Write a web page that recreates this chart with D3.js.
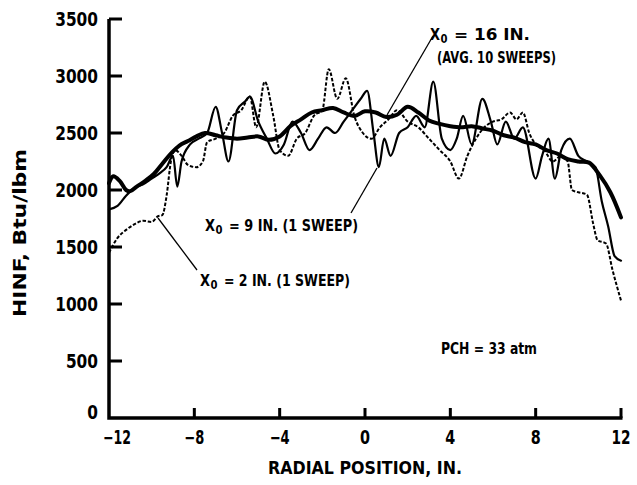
<!DOCTYPE html>
<html><head><meta charset="utf-8">
<script src="https://cdn.jsdelivr.net/npm/d3@7"></script>
<style>
body{margin:0;background:#fff}
svg text{font-family:"DejaVu Sans Condensed","DejaVu Sans",sans-serif;font-weight:bold;font-stretch:condensed;fill:#000}
</style>
</head><body>
<svg id="c" width="637" height="485"></svg>
<script>
// ---- data ----
const xTicks = [-12, -8, -4, 0, 4, 8, 12];
const yTicks = [0, 500, 1000, 1500, 2000, 2500, 3000, 3500];

// X0 = 16 IN. (avg. 10 sweeps) - thick line
const pos16 = [-12,-11.8,-11.5,-11.2,-11,-10.7,-10.3,-9.9,-9.5,-9.1,-8.7,-8.3,-7.9,-7.5,-7,-6.5,-6,-5.5,-5,-4.5,-4,-3.5,-3,-2.5,-2,-1.5,-1,-0.5,0,0.5,1,1.5,2,2.5,3,3.5,4,4.5,5,5.5,6,6.5,7,7.5,8,8.5,9,9.5,10,10.5,11,11.5,12];
const hinf16 = [2060,2120,2080,2000,1990,2030,2080,2140,2230,2320,2390,2430,2470,2500,2480,2460,2450,2460,2470,2440,2470,2560,2620,2680,2700,2720,2680,2650,2690,2680,2640,2660,2730,2680,2610,2580,2560,2550,2560,2540,2520,2480,2460,2420,2400,2350,2320,2270,2250,2240,2130,1980,1760];

// X0 = 9 IN. (1 sweep) - thin solid line
const pos9 = [-12,-11.6,-11.2,-10.8,-10.4,-10,-9.6,-9.3,-9,-8.8,-8.6,-8.2,-7.8,-7.4,-7,-6.7,-6.4,-6,-5.6,-5.4,-5,-4.6,-4.2,-3.8,-3.4,-3,-2.6,-2.2,-1.8,-1.4,-1,-0.6,-0.2,0.1,0.4,0.65,0.9,1.2,1.6,2,2.4,2.8,3.2,3.6,4,4.3,4.6,5,5.5,5.9,6.2,6.6,7,7.4,8,8.3,8.6,8.9,9.2,9.6,10,10.4,10.8,11.1,11.4,11.7,12];
const hinf9 = [1830,1860,1950,2020,2050,2100,2150,2200,2300,2030,2250,2400,2450,2500,2730,2500,2250,2700,2780,2820,2600,2450,2320,2400,2600,2500,2350,2450,2550,2500,2600,2700,2800,2870,2500,2200,2450,2300,2500,2550,2650,2550,2950,2450,2350,2450,2650,2400,2800,2600,2400,2600,2450,2550,2100,2300,2450,2100,2350,2450,2300,2250,2200,1900,1680,1420,1380];

// X0 = 2 IN. (1 sweep) - dashed line
const pos2 = [-12,-11.6,-11.2,-10.8,-10.4,-10,-9.7,-9.5,-9.3,-9.1,-8.9,-8.6,-8.3,-7.9,-7.6,-7.4,-7,-6.6,-6.2,-5.8,-5.4,-5.1,-4.7,-4.3,-4,-3.6,-3.2,-2.8,-2.4,-2,-1.7,-1.3,-0.9,-0.5,-0.1,0.3,0.7,1.1,1.5,2,2.5,3,3.5,4,4.4,4.8,5.2,5.6,6,6.4,6.8,7.1,7.4,7.7,8,8.4,8.8,9.2,9.5,9.7,10,10.4,10.7,10.9,11.3,11.6,12];
const hinf2 = [1450,1580,1650,1700,1730,1720,1770,1780,1950,2250,2350,2300,2220,2200,2250,2420,2450,2500,2650,2700,2820,2550,2950,2650,2350,2300,2450,2500,2650,2700,3060,2800,2980,2650,2500,2450,2550,2620,2700,2600,2550,2450,2350,2250,2100,2300,2450,2550,2600,2620,2680,2620,2680,2500,2400,2350,2250,2300,2250,2000,1980,1960,1700,1560,1530,1300,1030];

// ---- drawing ----
const svg = d3.select("#c");
const x = d3.scaleLinear().domain([-12, 12]).range([109, 621]);
const y = d3.scaleLinear().domain([0, 3500]).range([418, 19]);

function txt(g, s, px, py, opts) {
  const t = g.append("text").attr("x", px).attr("y", py)
    .attr("font-size", opts.size || 16)
    .attr("text-anchor", opts.anchor || "start")
    .attr("dominant-baseline", "central");
  if (opts.len) t.attr("textLength", opts.len).attr("lengthAdjust", "spacingAndGlyphs");
  if (opts.rot) t.attr("transform", `rotate(${opts.rot},${px},${py})`);
  t.text(s);
  return t;
}
function xsub(g, rest, px, py, len, size) {
  txt(g, "X", px, py, {size: size, len: 10});
  txt(g, "0", px + 10.5, py + 5, {size: size * 0.75, len: 7});
  txt(g, rest, px + 24, py, {size: size, len: len - 24});
}

// axis lines
svg.append("path").attr("d", `M${x(-12)},${y(3500)}V${y(0)}H${x(12) + 1.5}`)
  .attr("fill", "none").attr("stroke", "#000").attr("stroke-width", 3.5).attr("stroke-linejoin", "miter");
// ticks: y ticks point right, x ticks point up
const tickPath = yTicks.filter(v => v > 0).map(v => `M${x(-12)},${y(v)}h13`).join("") +
  xTicks.filter(v => v > -12).map(v => `M${x(v)},${y(0)}v-10`).join("");
svg.append("path").attr("d", tickPath).attr("fill", "none")
  .attr("stroke", "#000").attr("stroke-width", 3);

yTicks.forEach(v => {
  const s = String(v);
  txt(svg, s, 98, y(v) - (v === 0 ? 6 : 0), {size: 19, anchor: "end", len: s.length * 10.7});
});
xTicks.forEach(v => {
  const s = v < 0 ? "\u2212" + Math.abs(v) : String(v);
  const len = v < 0 ? (Math.abs(v) >= 10 ? 28 : 20) : (v >= 10 ? 19 : 10);
  txt(svg, s, x(v) + (v === -12 ? 8 : 0), 437, {size: 19, anchor: "middle", len: len});
});

txt(svg, "RADIAL POSITION, IN.", 365, 467, {size: 18, anchor: "middle", len: 194});
txt(svg, "HINF, Btu/lbm", 19, 233, {size: 18, anchor: "middle", len: 168, rot: -90});

// lines
const smooth = d3.line().x(d => x(d[0])).y(d => y(d[1])).curve(d3.curveCatmullRom.alpha(0.5));
const jag = d3.line().x(d => x(d[0])).y(d => y(d[1])).curve(d3.curveMonotoneX);
const zip = (a, b) => a.map((v, i) => [v, b[i]]);

svg.append("path").datum(zip(pos2, hinf2)).attr("d", jag)
  .attr("fill", "none").attr("stroke", "#000").attr("stroke-width", 2)
  .attr("stroke-dasharray", "3.5,1.8").attr("stroke-linejoin", "round");
svg.append("path").datum(zip(pos9, hinf9)).attr("d", jag)
  .attr("fill", "none").attr("stroke", "#000").attr("stroke-width", 2.2)
  .attr("stroke-linejoin", "round").attr("stroke-linecap", "round");
svg.append("path").datum(zip(pos16, hinf16)).attr("d", smooth)
  .attr("fill", "none").attr("stroke", "#000").attr("stroke-width", 4)
  .attr("stroke-linejoin", "round").attr("stroke-linecap", "round");

// leaders
const leaders = [[433, 36, 387, 115], [377, 168, 351, 213], [158, 218, 197, 270]];
svg.selectAll("line.leader").data(leaders).enter().append("line")
  .attr("class", "leader")
  .attr("x1", d => d[0]).attr("y1", d => d[1]).attr("x2", d => d[2]).attr("y2", d => d[3])
  .attr("stroke", "#000").attr("stroke-width", 1.3);

// annotations
xsub(svg, "= 16 IN.", 430, 34, 100, 16);
txt(svg, "(AVG. 10 SWEEPS)", 437, 57, {size: 16, len: 119});
xsub(svg, "= 9 IN. (1 SWEEP)", 205, 225, 153, 16);
xsub(svg, "= 2 IN. (1 SWEEP)", 200, 280, 150, 16);
txt(svg, "PCH = 33 atm", 441, 348, {size: 16, len: 96});
</script>
</body></html>
